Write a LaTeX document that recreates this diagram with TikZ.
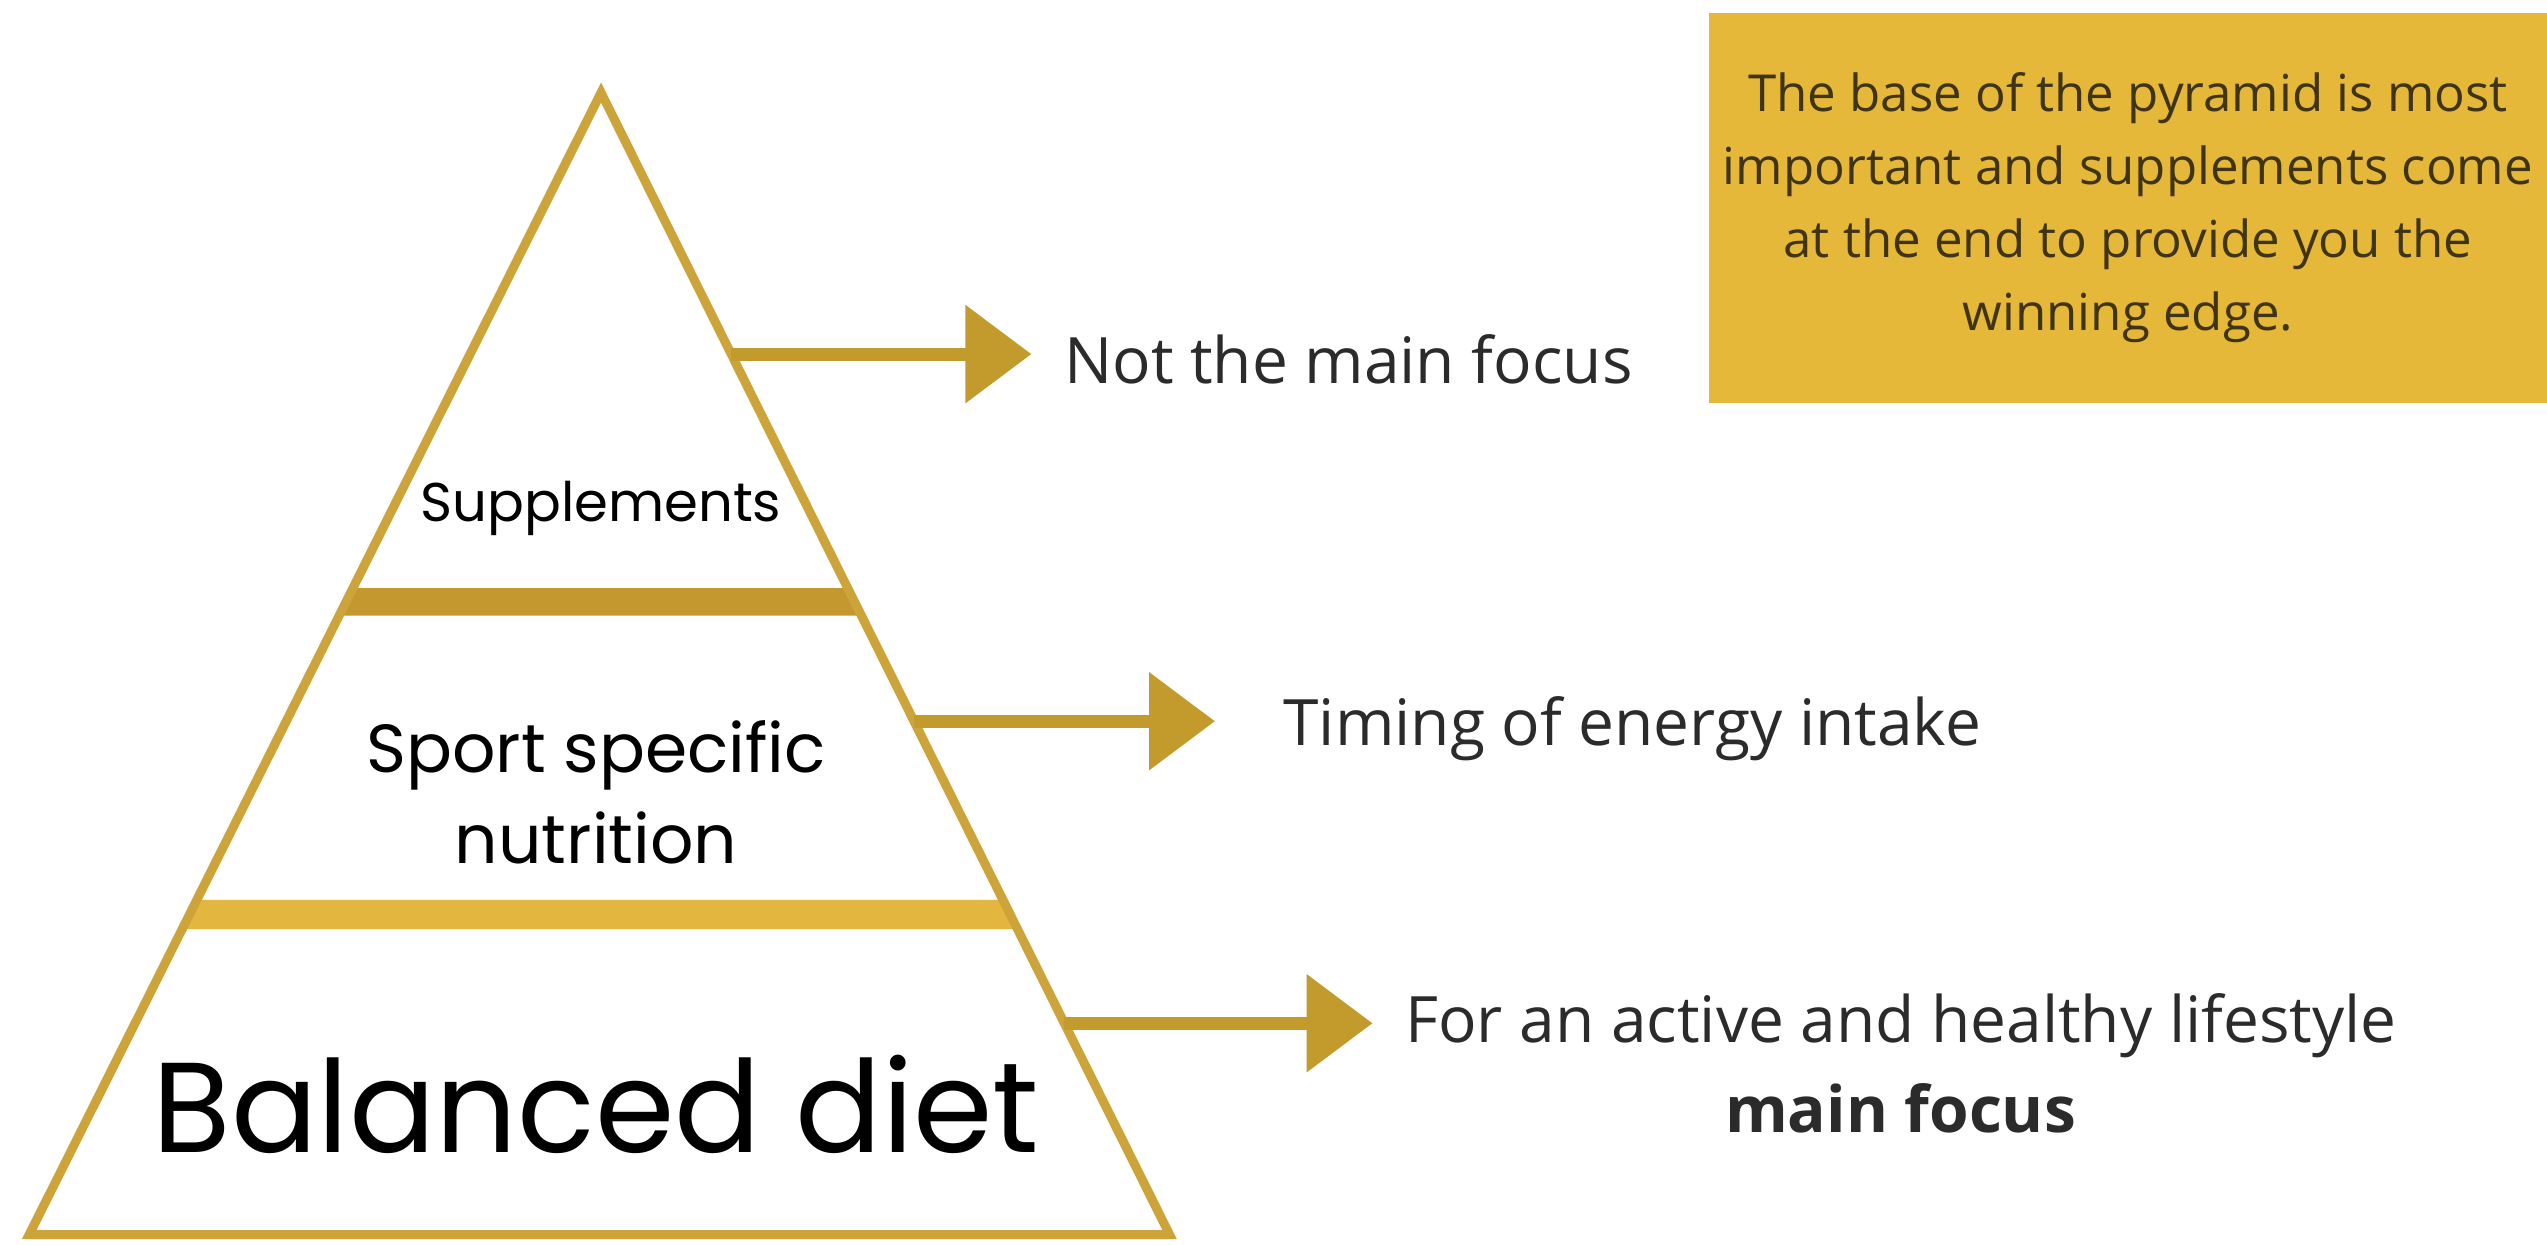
\documentclass[tikz,border=0pt]{standalone}
\usepackage{fontspec}
\setmainfont{Open Sans}
\newfontfamily\pyrfont{Poppins}
\usetikzlibrary{arrows.meta,calc}
\definecolor{goldline}{HTML}{CDA43A}
\definecolor{bardark}{HTML}{C4972F}
\definecolor{barlight}{HTML}{E3B73F}
\definecolor{arrowgold}{HTML}{C39A2C}
\definecolor{boxgold}{HTML}{E5B83A}
\definecolor{boxtext}{HTML}{3F3416}
\definecolor{labeltext}{HTML}{2B2B2B}
\begin{document}
\begin{tikzpicture}[x=1.6244bp,y=-1.6244bp,
  edge/.style={draw=goldline,line width=9bp,line join=miter},
  pointer/.style={draw=arrowgold,line width=13bp,-{Triangle[length=66bp,width=95bp]}},
  tierlabel/.style={font=\pyrfont,text=black,align=center,inner sep=0pt},
  sidelabel/.style={anchor=base west,text=labeltext,inner sep=0pt,font=\fontsize{64bp}{76bp}\selectfont},
  notebox/.style={fill=boxgold,text=boxtext,align=center,inner sep=0pt,
    minimum width=838bp,minimum height=390bp,font=\fontsize{51bp}{73bp}\selectfont}]
\useasboundingbox (0,0) rectangle (1568,766);
\fill[white] (0,0) rectangle (1568,766);

% pyramid corners
\coordinate (apex) at (370,57);
\coordinate (bl) at (18,760);
\coordinate (br) at (720,760);

% separating bands between the tiers
\fill[bardark] (217,362) -- (522,362) -- (530,379) -- (209,379) -- cycle;
\fill[barlight] (121,554) -- (618,554) -- (626,572) -- (112,572) -- cycle;

% outline
\draw[edge] (apex) -- (br) -- (bl) -- cycle;

% tier labels
\node[tierlabel,font=\pyrfont\fontsize{54.5bp}{60bp}\selectfont] (supp) at (370,313) {Supplements};
\node[tierlabel,font=\pyrfont\fontsize{68bp}{91bp}\selectfont] (sport) at (367,488) {Sport specific\\nutrition};
\node[tierlabel,font=\pyrfont\fontsize{128bp}{140bp}\selectfont] (bal) at (367,680) {Balanced diet};

% side labels
\node[sidelabel] (l1) at (655,236) {Not the main focus};
\node[sidelabel] (l2) at (790,459) {Timing of energy intake};
\node[sidelabel] (l3) at (865,642) {For an active and healthy lifestyle};
\node[anchor=base,text=labeltext,inner sep=0pt,font=\fontsize{64bp}{76bp}\selectfont\bfseries] (l4) at (1170,697) {main focus};

% pointers from the pyramid edge to the labels
\coordinate (e1) at ($(apex)!0.229!(br)$);
\coordinate (e2) at ($(apex)!0.5505!(br)$);
\coordinate (e3) at ($(apex)!0.815!(br)$);
\coordinate (t1) at (635,0);
\coordinate (t2) at (748,0);
\coordinate (t3) at (845,0);
\draw[pointer] (e1) -- (e1 -| t1);
\draw[pointer] (e2) -- (e2 -| t2);
\draw[pointer] (e3) -- (e3 -| t3);

% note box
\node[notebox] (note) at (1310,128) {The base of the pyramid is most\\important and supplements come\\at the end to provide you the\\winning edge.};
\end{tikzpicture}
\end{document}
